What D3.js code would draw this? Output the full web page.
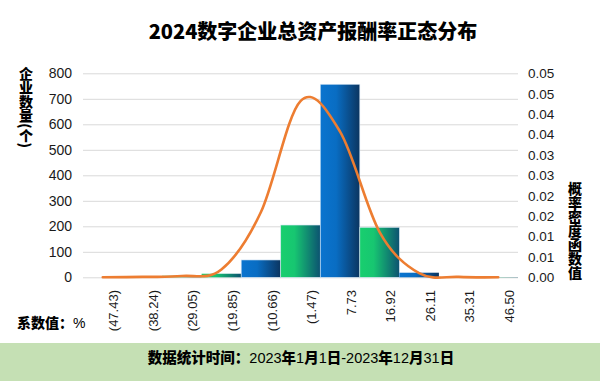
<!DOCTYPE html>
<html lang="zh">
<head>
<meta charset="UTF-8">
<title>2024数字企业总资产报酬率正态分布</title>
<script src="https://cdnjs.cloudflare.com/ajax/libs/d3/7.8.5/d3.min.js"></script>
<style>
    body { margin: 0; background: #fff; }
    svg { display: block; }
    .cjk { font-family: "Noto Sans CJK SC", sans-serif; }
    .num { font-family: "Liberation Sans", Arial, sans-serif; }
    .axis .domain { display: none; }
    .grid line { stroke: #d9d9d9; stroke-width: 1; }
</style>
</head>
<body>
<svg id="chart" width="600" height="381"></svg>
<script>
// bins of the coefficient (%)
var categories = ["(47.43)", "(38.24)", "(29.05)", "(19.85)", "(10.66)", "(1.47)",
    "7.73", "16.92", "26.11", "35.31", "46.50"];
// number of companies in each bin
var counts = [0, 3, 6, 14, 68, 205, 757, 196, 18, 0, 1];
// normal density at each bin
var density = [0.0000, 0.0001, 0.0003, 0.0019, 0.0160, 0.0432, 0.0357, 0.0111, 0.0010, 0.0001, 0.0000];

var leftTicks = [0, 100, 200, 300, 400, 500, 600, 700, 800];
var rightTicks = [0, 0.005, 0.01, 0.015, 0.02, 0.025, 0.03, 0.035, 0.04, 0.045, 0.05];
var rightTickLabels = ["0.00", "0.01", "0.01", "0.02", "0.02", "0.03", "0.03", "0.04", "0.04", "0.05", "0.05"];

var title = "2024数字企业总资产报酬率正态分布";
var leftTitle = "企业数量(个)";
var rightTitle = "概率密度函数值";
var xTitle = "系数值：";
var footer = "数据统计时间：2023年1月1日-2023年12月31日";

// which gradient each bar uses
var barTone = ["blue", "blue", "green", "green", "blue", "green", "blue", "green", "blue", "green", "green"];

(function () {
    var svg = d3.select("#chart");
    var plot = {left: 83, right: 518, top: 73.3, bottom: 277.3};

    var x = d3.scaleBand().domain(categories).range([plot.left, plot.right]).padding(0);
    var yL = d3.scaleLinear().domain([0, 800]).range([plot.bottom, plot.top]);
    var yR = d3.scaleLinear().domain([0, 0.05]).range([plot.bottom, plot.top]);
    var bw = x.bandwidth();

    var defs = svg.append("defs");
    function grad(id, stops) {
        var g = defs.append("linearGradient").attr("id", id)
            .attr("x1", "0%").attr("x2", "100%").attr("y1", "0%").attr("y2", "0%");
        stops.forEach(function (s) {
            g.append("stop").attr("offset", s[0]).attr("stop-color", s[1]);
        });
    }
    grad("blue", [["0%", "#0a74cf"], ["40%", "#096dc3"], ["100%", "#0b3560"]]);
    grad("green", [["0%", "#18cf6e"], ["35%", "#17c671"], ["100%", "#0c5271"]]);

    // gridlines + left labels
    var gl = svg.append("g")
        .attr("class", "axis grid num")
        .attr("transform", "translate(" + plot.left + ",0)")
        .call(d3.axisLeft(yL).tickValues(leftTicks).tickSize(-(plot.right - plot.left)).tickPadding(11));
    gl.selectAll("text").attr("fill", "#1a1a1a").style("font-size", "14px");

    // bars
    svg.append("g").selectAll("rect")
        .data(counts)
        .join("rect")
        .attr("x", function (d, i) { return x(categories[i]); })
        .attr("width", bw)
        .attr("y", function (d) { return yL(d); })
        .attr("height", function (d) { return yL(0) - yL(d); })
        .attr("fill", function (d, i) { return "url(#" + barTone[i] + ")"; })
        .attr("stroke", "#d6e6f4")
        .attr("stroke-width", function (d) { return d > 30 ? 0.6 : 0; });

    // density curve
    var line = d3.line()
        .x(function (d, i) { return x(categories[i]) + bw / 2; })
        .y(function (d) { return yR(d); })
        .curve(d3.curveCardinal.tension(0));
    svg.append("path")
        .datum(density)
        .attr("fill", "none")
        .attr("stroke", "#ed7d31")
        .attr("stroke-width", 2.6)
        .attr("stroke-linecap", "round")
        .attr("d", line);

    // right axis
    var gr = svg.append("g")
        .attr("class", "axis num")
        .attr("transform", "translate(" + plot.right + ",0)")
        .call(d3.axisRight(yR).tickValues(rightTicks).tickSize(0).tickPadding(10)
            .tickFormat(function (d, i) { return rightTickLabels[i]; }));
    gr.selectAll("text").attr("fill", "#1a1a1a").style("font-size", "13.5px");

    // x labels, rotated
    svg.append("g").attr("class", "num")
        .selectAll("text")
        .data(categories)
        .join("text")
        .attr("transform", function (d) {
            return "translate(" + (x(d) + bw / 2 + 11) + ",290)rotate(-90)";
        })
        .attr("text-anchor", "end")
        .attr("dy", "0.35em")
        .attr("fill", "#1a1a1a")
        .style("font-size", "13px")
        .text(function (d) { return d; });

    // title
    svg.append("text")
        .attr("class", "cjk")
        .attr("x", 313).attr("y", 39)
        .attr("text-anchor", "middle")
        .style("font-size", "20px").style("font-weight", "900")
        .text(title);

    // vertical axis titles
    svg.append("text")
        .attr("class", "cjk")
        .attr("x", 26).attr("y", 67)
        .style("writing-mode", "vertical-rl")
        .style("font-size", "14px").style("font-weight", "900")
        .text(leftTitle);

    svg.append("text")
        .attr("class", "cjk")
        .attr("x", 575).attr("y", 182)
        .style("writing-mode", "vertical-rl")
        .style("font-size", "14px").style("font-weight", "900")
        .text(rightTitle);

    // x title
    var xt = svg.append("text").attr("x", 17).attr("y", 328).style("font-size", "14px");
    xt.append("tspan").attr("class", "cjk").style("font-weight", "900").text(xTitle);
    xt.append("tspan").attr("class", "num").text("%");

    // footer band
    svg.append("rect")
        .attr("x", 0).attr("y", 343).attr("width", 600).attr("height", 38)
        .attr("fill", "#c5e0b4");

    var ft = svg.append("text")
        .attr("x", 301).attr("y", 363)
        .attr("text-anchor", "middle")
        .style("font-size", "14.5px");
    footer.match(/[0-9\-]+|[^0-9\-]+/g).forEach(function (part) {
        var isNum = /^[0-9\-]+$/.test(part);
        ft.append("tspan")
            .attr("class", isNum ? "num" : "cjk")
            .style("font-weight", isNum ? "normal" : "900")
            .text(part);
    });
})();
</script>
</body>
</html>
